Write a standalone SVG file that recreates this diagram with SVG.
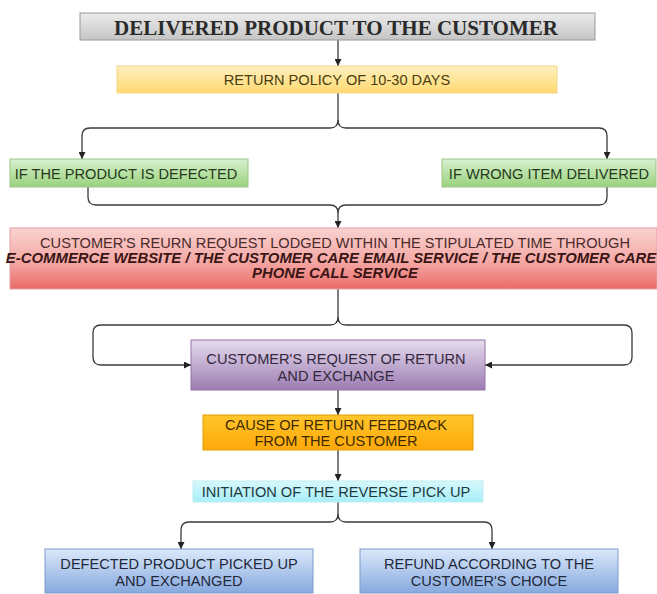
<svg xmlns="http://www.w3.org/2000/svg" width="657" height="594" viewBox="0 0 657 594">
<style>
.t{font-family:"Liberation Sans",Arial,sans-serif;font-size:14.6px;fill:#2e2e2e;text-anchor:middle}
.bi{font-weight:bold;font-style:italic;fill:#3a1515;font-size:14.9px}
.c{fill:none;stroke:#3a3a3a;stroke-width:1.3}
.b{stroke-width:1}
</style>
<defs>
<linearGradient id="gGray" x1="0" y1="0" x2="0" y2="1"><stop offset="0" stop-color="#ececec"/><stop offset="1" stop-color="#c4c4c4"/></linearGradient>
<linearGradient id="gYel" x1="0" y1="0" x2="0" y2="1"><stop offset="0" stop-color="#fff0c0"/><stop offset="1" stop-color="#ffd970"/></linearGradient>
<linearGradient id="gGrn" x1="0" y1="0" x2="0" y2="1"><stop offset="0" stop-color="#d9f0d0"/><stop offset="1" stop-color="#98d27c"/></linearGradient>
<linearGradient id="gRed" x1="0" y1="0" x2="0" y2="1"><stop offset="0" stop-color="#f9d2d0"/><stop offset="0.55" stop-color="#f4a8a4"/><stop offset="1" stop-color="#ea6b68"/></linearGradient>
<linearGradient id="gPur" x1="0" y1="0" x2="0" y2="1"><stop offset="0" stop-color="#e6dcee"/><stop offset="1" stop-color="#9c7cb2"/></linearGradient>
<linearGradient id="gOra" x1="0" y1="0" x2="0" y2="1"><stop offset="0" stop-color="#ffc62a"/><stop offset="1" stop-color="#ffa80a"/></linearGradient>
<linearGradient id="gCya" x1="0" y1="0" x2="0" y2="1"><stop offset="0" stop-color="#d6f8fc"/><stop offset="1" stop-color="#a8eef8"/></linearGradient>
<linearGradient id="gBlu" x1="0" y1="0" x2="0" y2="1"><stop offset="0" stop-color="#dbe8fb"/><stop offset="1" stop-color="#86a9dd"/></linearGradient>
<marker id="arr" viewBox="0 0 10 10" refX="10" refY="5" markerWidth="7" markerHeight="7" markerUnits="userSpaceOnUse" orient="auto"><path d="M0,0 L10,5 L0,10 z" fill="#222"/></marker>
</defs>

<g id="connectors" class="c">
<path d="M338,40 V66" marker-end="url(#arr)"/>
<path d="M338,93 V120 Q338,128 330,128 H90 Q82,128 82,136 V159" marker-end="url(#arr)"/>
<path d="M338,120 Q338,128 346,128 H599 Q607,128 607,136 V159" marker-end="url(#arr)"/>
<path d="M88,187 V197 Q88,205 96,205 H330 Q338,205 338,213 V228" marker-end="url(#arr)"/>
<path d="M607,187 V197 Q607,205 599,205 H346 Q338,205 338,213"/>
<path d="M338,289 V317 Q338,325 330,325 H101 Q93,325 93,333 V357 Q93,365 101,365 H191" marker-end="url(#arr)"/>
<path d="M338,317 Q338,325 346,325 H624 Q632,325 632,333 V357 Q632,365 624,365 H485" marker-end="url(#arr)"/>
<path d="M338,390 V415" marker-end="url(#arr)"/>
<path d="M338,450 V481" marker-end="url(#arr)"/>
<path d="M338,502 V514 Q338,522 330,522 H189 Q181,522 181,530 V549" marker-end="url(#arr)"/>
<path d="M338,514 Q338,522 346,522 H484 Q492,522 492,530 V549" marker-end="url(#arr)"/>
</g>

<g id="n1">
<rect x="80" y="13" width="515" height="27" fill="url(#gGray)" stroke="#9a9a9a" class="b"/>
<text x="336" y="35" style="font-family:'Liberation Serif','Times New Roman',serif;font-size:21px;font-weight:bold;fill:#2a2a2a;text-anchor:middle">DELIVERED PRODUCT TO THE CUSTOMER</text>
</g>
<g id="n2">
<rect x="117" y="66" width="440" height="27" fill="url(#gYel)" stroke="#f2d68a" class="b"/>
<text x="337" y="85" class="t" style="fill:#4a3e10">RETURN POLICY OF 10-30 DAYS</text>
</g>
<g id="n3">
<rect x="10" y="159" width="238" height="28" fill="url(#gGrn)" stroke="#9cc88a" class="b"/>
<text x="126" y="179" class="t" style="fill:#253a1c">IF THE PRODUCT IS DEFECTED</text>
</g>
<g id="n4">
<rect x="442" y="159" width="214" height="28" fill="url(#gGrn)" stroke="#9cc88a" class="b"/>
<text x="549" y="179" class="t" style="fill:#253a1c">IF WRONG ITEM DELIVERED</text>
</g>
<g id="n5">
<rect x="10" y="228" width="647" height="61" fill="url(#gRed)" stroke="#e0a0a0" class="b"/>
<text x="335" y="248" class="t" style="fill:#4a2a2a">CUSTOMER'S REURN REQUEST LODGED WITHIN THE STIPULATED TIME THROUGH</text>
<text x="331" y="263" class="t bi">E-COMMERCE WEBSITE / THE CUSTOMER CARE EMAIL SERVICE / THE CUSTOMER CARE</text>
<text x="335" y="278" class="t bi">PHONE CALL SERVICE</text>
</g>
<g id="n6">
<rect x="191" y="340" width="294" height="50" fill="url(#gPur)" stroke="#9673a6" class="b"/>
<text x="336" y="364" class="t" style="fill:#33283d">CUSTOMER'S REQUEST OF RETURN</text>
<text x="336" y="381" class="t" style="fill:#33283d">AND EXCHANGE</text>
</g>
<g id="n7">
<rect x="203" y="415" width="270" height="35" fill="url(#gOra)" stroke="#e0a000" class="b"/>
<text x="336" y="430" class="t" style="fill:#3d2a00">CAUSE OF RETURN FEEDBACK</text>
<text x="336" y="446" class="t" style="fill:#3d2a00">FROM THE CUSTOMER</text>
</g>
<g id="n8">
<rect x="193" y="481" width="290" height="21" fill="url(#gCya)" stroke="#bfeef4" class="b"/>
<text x="336" y="497" class="t" style="fill:#1d3a40">INITIATION OF THE REVERSE PICK UP</text>
</g>
<g id="n9">
<rect x="45" y="549" width="268" height="44" fill="url(#gBlu)" stroke="#7d9ccc" class="b"/>
<text x="179" y="569" class="t" style="fill:#22293a">DEFECTED PRODUCT PICKED UP</text>
<text x="179" y="586" class="t" style="fill:#22293a">AND EXCHANGED</text>
</g>
<g id="n10">
<rect x="360" y="549" width="258" height="44" fill="url(#gBlu)" stroke="#7d9ccc" class="b"/>
<text x="489" y="569" class="t" style="fill:#22293a">REFUND ACCORDING TO THE</text>
<text x="489" y="586" class="t" style="fill:#22293a">CUSTOMER'S CHOICE</text>
</g>
</svg>
